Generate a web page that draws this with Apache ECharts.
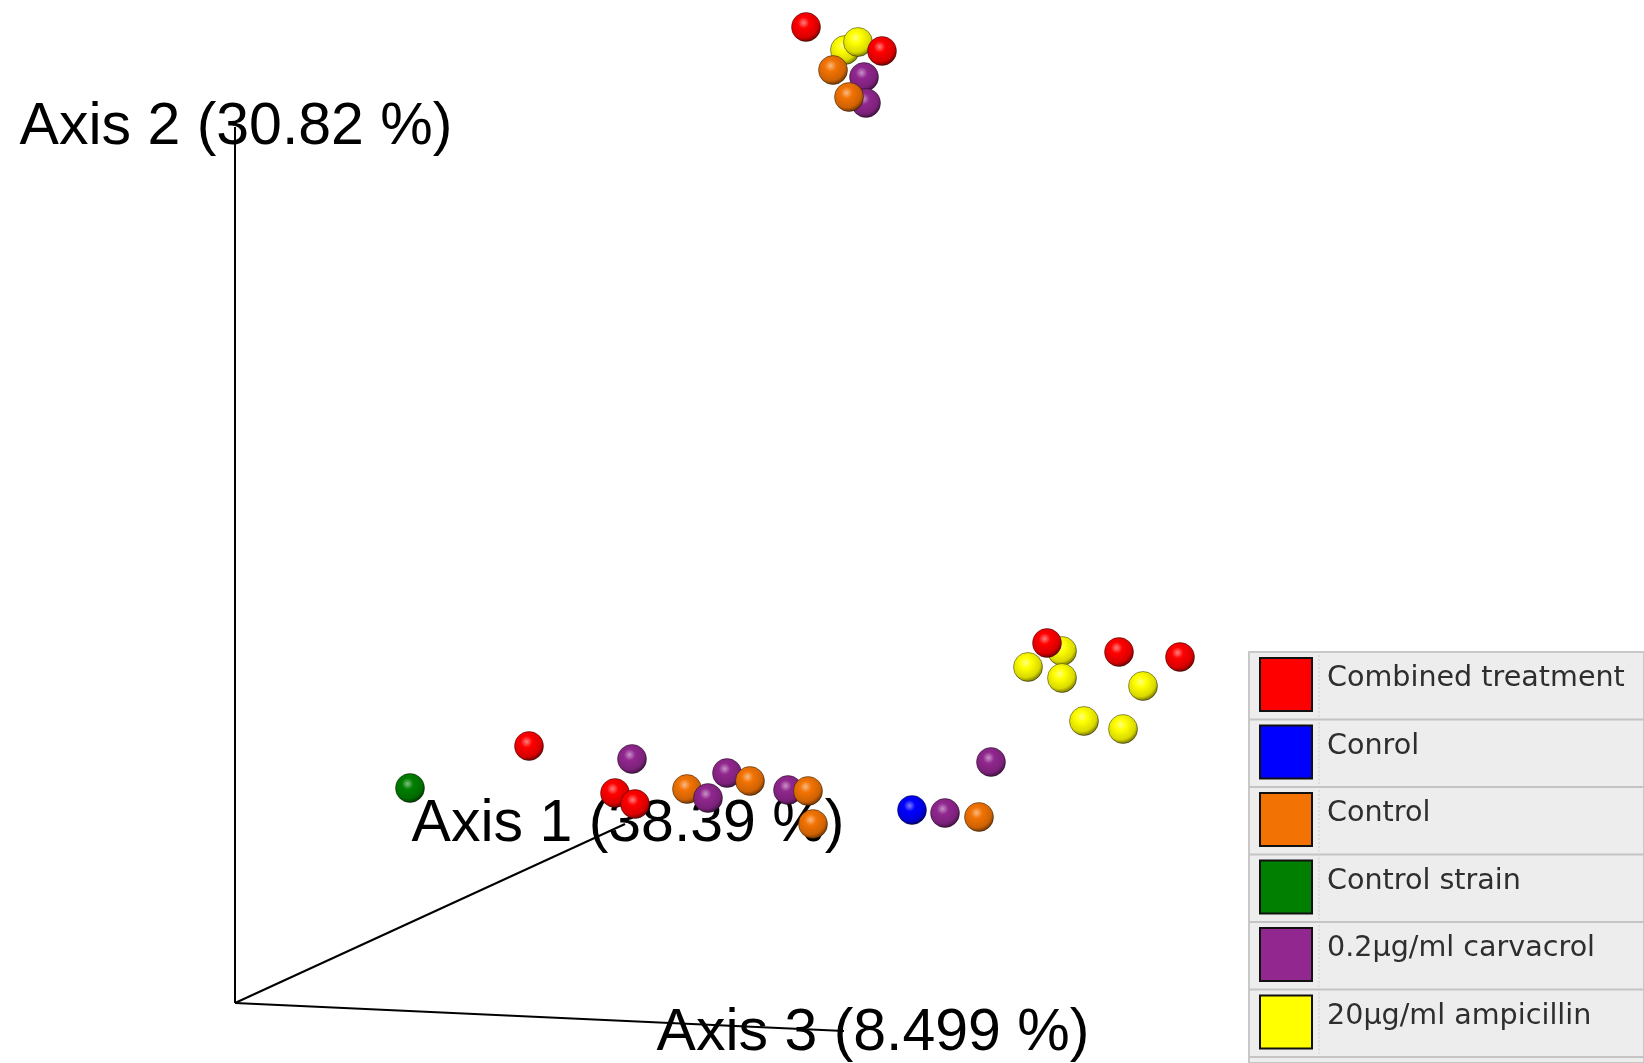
<!DOCTYPE html>
<html>
<head>
<meta charset="utf-8">
<style>
  html, body { margin: 0; padding: 0; background: #fff; }
  #main { width: 1644px; height: 1063px; }
</style>
<script src="https://cdn.jsdelivr.net/npm/echarts@6/dist/echarts.min.js"></script>
</head>
<body>
<div id="main"></div>
<script>
// groups of the legend
var groupNames = ['Combined treatment', 'Conrol', 'Control', 'Control strain', '0.2\u00b5g/ml carvacrol', '20\u00b5g/ml ampicillin'];
var groupColors = ['#ff0000', '#0000ff', '#f27304', '#007f00', '#91278f', '#ffff00'];

// projected sample positions [x, y, depth] (depth = drawing order, larger is nearer)
var combinedTreatment = [[806, 27, 0], [882, 51, 2], [529, 746, 0], [615, 793, 0], [635, 804, 1], [1047, 643, 1], [1119, 652, 0], [1180, 657, 0]];
var conrol = [[912, 810, 0]];
var control = [[833, 70, 2], [849, 97, 3], [687, 789, 0], [750, 781, 1], [808, 791, 1], [813, 824, 2], [979, 817, 0]];
var controlStrain = [[410, 788, 0]];
var carvacrol = [[864, 77, 1], [866, 103, 1], [632, 759, 0], [708, 798, 1], [727, 773, 0], [788, 790, 0], [991, 762, 0], [945, 813, 0]];
var ampicillin = [[845, 50, 0], [858, 42, 0], [1062, 651, 0], [1028, 667, 0], [1062, 678, 0], [1143, 686, 0], [1084, 721, 0], [1123, 729, 0]];
var groupPoints = [combinedTreatment, conrol, control, controlStrain, carvacrol, ampicillin];

// 3D frame axes in the same projected space
var axisOrigin = [235, 1003];
var axisEnds = [[625, 824], [235, 127], [844, 1031]];
var axisNames = ['Axis 1 (38.39 %)', 'Axis 2 (30.82 %)', 'Axis 3 (8.499 %)'];

function mix(hex, target, t) {
    var a = parseInt(hex.slice(1), 16), b = parseInt(target.slice(1), 16);
    var r = Math.round(((a >> 16) & 255) + ((((b >> 16) & 255) - ((a >> 16) & 255)) * t));
    var g = Math.round(((a >> 8) & 255) + ((((b >> 8) & 255) - ((a >> 8) & 255)) * t));
    var bl = Math.round((a & 255) + (((b & 255) - (a & 255)) * t));
    return 'rgb(' + r + ',' + g + ',' + bl + ')';
}

function ballColor(c) {
    return {
        type: 'radial', x: 0.42, y: 0.36, r: 0.68,
        colorStops: [
            { offset: 0, color: mix(c, '#ffffff', 0.5) },
            { offset: 0.28, color: c },
            { offset: 0.72, color: mix(c, '#000000', 0.15) },
            { offset: 1, color: mix(c, '#000000', 0.65) }
        ]
    };
}

// one scatter, sorted by depth so overlaps come out right
var points = [];
groupPoints.forEach(function (arr, gi) {
    arr.forEach(function (p) {
        points.push({ value: [p[0], p[1]], depth: p[2], name: groupNames[gi], itemStyle: { color: ballColor(groupColors[gi]) } });
    });
});
points.sort(function (a, b) { return a.depth - b.depth; });

var series = [];
axisEnds.forEach(function (end) {
    series.push({
        type: 'line',
        data: [axisOrigin, end],
        symbol: 'none',
        z: 3,
        silent: true,
        lineStyle: { color: '#000', width: 2 }
    });
});
var labelOffsets = [[3, 1], [1, 1], [29, 3]];
series.push({
    type: 'scatter',
    z: 2,
    symbolSize: 0,
    silent: true,
    itemStyle: { opacity: 1 },
    data: axisEnds.map(function (e, i) {
        return {
            value: e,
            label: {
                show: true,
                position: 'inside',
                offset: labelOffsets[i],
                formatter: axisNames[i],
                fontFamily: 'Liberation Sans, Arial, sans-serif',
                fontSize: 59,
                color: '#000',
                textBorderWidth: 0,
                opacity: 1
            }
        };
    })
});
series.push({
    type: 'scatter',
    z: 5,
    symbolSize: 29,
    itemStyle: { borderColor: 'rgba(0,0,0,0.4)', borderWidth: 1, opacity: 1 },
    data: points
});

// legend panel
var legendLeft = 1249, legendTop = 652, rowH = 67.5;
var graphics = [{
    type: 'rect',
    shape: { x: legendLeft, y: legendTop, width: 1644 - legendLeft, height: 1063 - legendTop },
    style: { fill: '#ededed', stroke: '#c8c8c8', lineWidth: 2 }
}];
groupNames.forEach(function (name, i) {
    var top = legendTop + rowH * i;
    graphics.push({
        type: 'rect',
        shape: { x: legendLeft + 11, y: top + 6, width: 52, height: 53 },
        style: { fill: groupColors[i], stroke: '#111', lineWidth: 2 }
    });
    graphics.push({
        type: 'line',
        shape: { x1: legendLeft + 70, y1: top + 3, x2: legendLeft + 70, y2: top + rowH - 3 },
        style: { stroke: '#cccccc', lineWidth: 1, lineDash: [2, 2] }
    });
    graphics.push({
        type: 'text',
        x: legendLeft + 78,
        y: top + 27,
        style: { text: name, fill: '#2e2e2e', font: '28.6px "DejaVu Sans", Verdana, sans-serif', verticalAlign: 'middle' }
    });
    graphics.push({
        type: 'line',
        shape: { x1: legendLeft, y1: top + rowH, x2: 1644, y2: top + rowH },
        style: { stroke: '#c4c4c4', lineWidth: 2 }
    });
});

var chart = echarts.init(document.getElementById('main'));
chart.setOption({
    animation: false,
    backgroundColor: '#fff',
    grid: { left: 0, right: 0, top: 0, bottom: 0 },
    xAxis: { type: 'value', min: 0, max: 1644, show: false },
    yAxis: { type: 'value', min: 0, max: 1063, inverse: true, show: false },
    graphic: graphics,
    series: series
});
</script>
</body>
</html>
